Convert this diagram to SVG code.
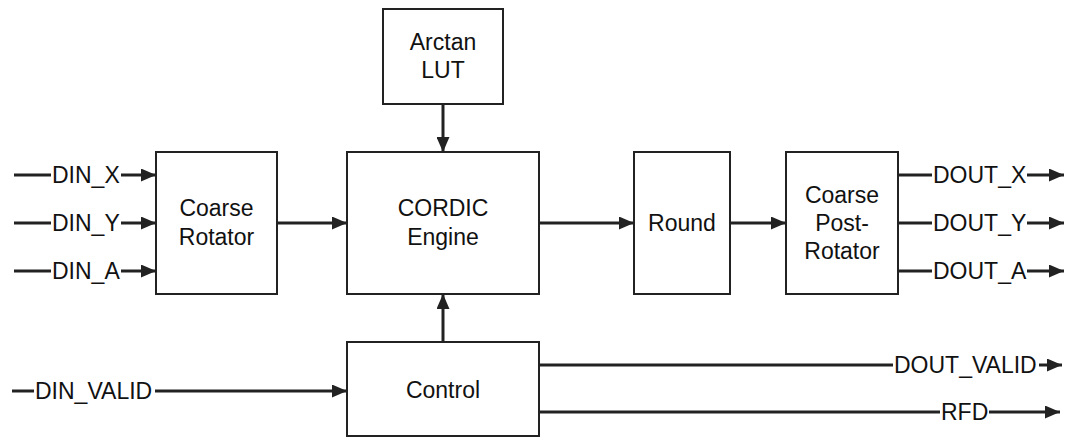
<svg xmlns="http://www.w3.org/2000/svg" width="1068" height="437" viewBox="0 0 1068 437">
<style>
.box{fill:#fff;stroke:#222;stroke-width:2}
.lbl{font-family:"Liberation Sans",Arial,sans-serif;font-size:23px;fill:#111}
.c{text-anchor:middle}
.w{stroke:#222;stroke-width:3;fill:none}
.a{marker-end:url(#ah)}
</style>
<defs>
<marker id="ah" viewBox="0 0 15 13" refX="15" refY="6.5" markerWidth="15" markerHeight="13" markerUnits="userSpaceOnUse" orient="auto">
<path d="M0,0 L15,6.5 L0,13 Z" fill="#222"/>
</marker>
</defs>
<rect width="1068" height="437" fill="#fff"/>
<g id="connectors">
<path class="w" d="M14,175 H51"/>
<path class="w a" d="M121,175 H156"/>
<path class="w" d="M14,223 H51"/>
<path class="w a" d="M121,223 H156"/>
<path class="w" d="M14,271 H51"/>
<path class="w a" d="M121,271 H156"/>
<path class="w a" d="M277,223 H347"/>
<path class="w a" d="M443,104 V152"/>
<path class="w a" d="M539,223 H634"/>
<path class="w a" d="M730,223 H786"/>
<path class="w a" d="M443,342 V294"/>
<path class="w" d="M12,391 H34"/>
<path class="w a" d="M155,391 H347"/>
<path class="w" d="M898,175 H932"/>
<path class="w a" d="M1027,175 H1064"/>
<path class="w" d="M898,223 H932"/>
<path class="w a" d="M1027,223 H1064"/>
<path class="w" d="M898,271 H932"/>
<path class="w a" d="M1027,271 H1064"/>
<path class="w" d="M539,365 H893"/>
<path class="w a" d="M1039,365 H1062"/>
<path class="w" d="M539,412 H940"/>
<path class="w a" d="M989,412 H1060"/>
<text class="lbl" x="52" y="183">DIN_X</text>
<text class="lbl" x="52" y="231">DIN_Y</text>
<text class="lbl" x="52" y="279">DIN_A</text>
<text class="lbl" x="35" y="399">DIN_VALID</text>
<text class="lbl" x="933" y="183">DOUT_X</text>
<text class="lbl" x="933" y="231">DOUT_Y</text>
<text class="lbl" x="933" y="279">DOUT_A</text>
<text class="lbl" x="894" y="373">DOUT_VALID</text>
<text class="lbl" x="941" y="420">RFD</text>
</g>
<g id="arctan">
<rect class="box" x="383" y="9" width="120" height="95"/>
<text class="lbl c" x="443" y="50">Arctan</text>
<text class="lbl c" x="443" y="78">LUT</text>
</g>
<g id="coarse">
<rect class="box" x="156" y="152" width="121" height="142"/>
<text class="lbl c" x="216.5" y="216">Coarse</text>
<text class="lbl c" x="216.5" y="245">Rotator</text>
</g>
<g id="cordic">
<rect class="box" x="347" y="152" width="192" height="142"/>
<text class="lbl c" x="443" y="216">CORDIC</text>
<text class="lbl c" x="443" y="245">Engine</text>
</g>
<g id="round">
<rect class="box" x="634" y="152" width="96" height="142"/>
<text class="lbl c" x="682" y="231">Round</text>
</g>
<g id="postrot">
<rect class="box" x="786" y="152" width="112" height="142"/>
<text class="lbl c" x="842" y="203">Coarse</text>
<text class="lbl c" x="842" y="231">Post-</text>
<text class="lbl c" x="842" y="259">Rotator</text>
</g>
<g id="control">
<rect class="box" x="347" y="342" width="192" height="94"/>
<text class="lbl c" x="443" y="398">Control</text>
</g>
</svg>
